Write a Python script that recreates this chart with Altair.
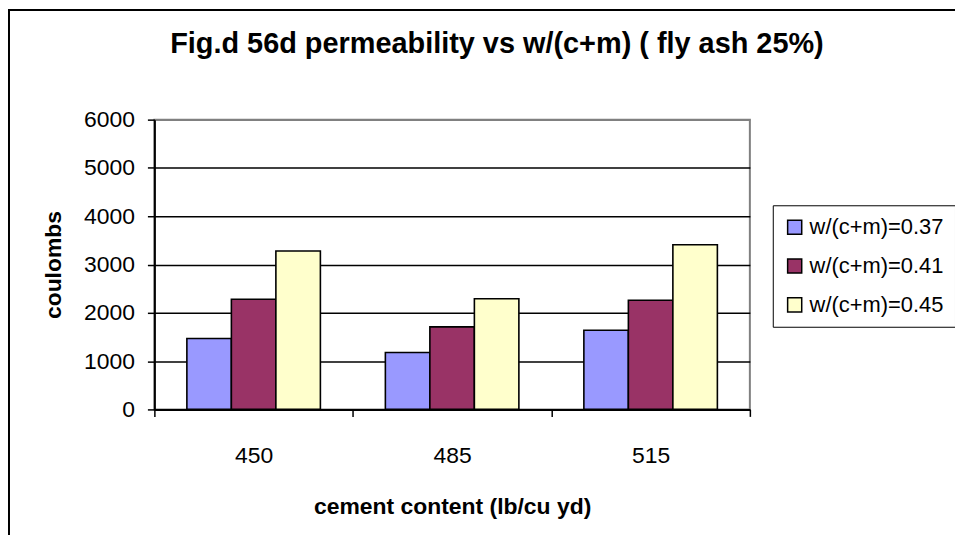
import altair as alt
import pandas as pd

cements = ["450", "485", "515"]
series = ["w/(c+m)=0.37", "w/(c+m)=0.41", "w/(c+m)=0.45"]
values_037 = [1470, 1180, 1640]
values_041 = [2280, 1710, 2260]
values_045 = [3280, 2290, 3410]
colors = ["#9999FF", "#993366", "#FFFFCC"]
y_ticks = [0, 1000, 2000, 3000, 4000, 5000, 6000]
title_text = "Fig.d 56d permeability vs w/(c+m) ( fly ash 25%)"

rows = []
for s, vals in zip(series, [values_037, values_041, values_045]):
    for c, v in zip(cements, vals):
        rows.append({"cement": c, "series": s, "coulombs": v})
df = pd.DataFrame(rows)

FONT = "Liberation Sans"
W, H = 598, 291

border = alt.Chart(alt.Data(values=[{}])).mark_rect(
    fillOpacity=0, stroke="black", strokeWidth=2
).encode(
    x=alt.value(-146), x2=alt.value(W + 300),
    y=alt.value(-110), y2=alt.value(H + 200),
)

title = alt.Chart(alt.Data(values=[{"t": title_text}])).mark_text(
    font=FONT, fontSize=29, fontWeight="bold", color="black",
    align="center", baseline="alphabetic"
).encode(text="t:N", x=alt.value(344), y=alt.value(-67))

bars = alt.Chart(df).mark_bar(stroke="black", strokeWidth=1.6).encode(
    x=alt.X("cement:N", sort=cements,
            scale=alt.Scale(paddingInner=0, paddingOuter=0),
            axis=alt.Axis(title="cement content (lb/cu yd)", labelAngle=0,
                          tickBand="extent", tickSize=7, labelPadding=28,
                          titlePadding=29)),
    xOffset=alt.XOffset("series:N", sort=series,
                        scale=alt.Scale(paddingInner=0, paddingOuter=0.73)),
    y=alt.Y("coulombs:Q", scale=alt.Scale(domain=[0, 6000], nice=False),
            axis=alt.Axis(title="coulombs", values=y_ticks, format="d",
                          tickSize=7, labelPadding=13, titlePadding=18,
                          gridColor={"condition": {"test": "datum.value === 6000", "value": "#808080"}, "value": "black"})),
    color=alt.Color("series:N", sort=series,
                    scale=alt.Scale(domain=series, range=colors),
                    legend=alt.Legend(title=None, orient="none",
                                      legendX=621, legendY=86)),
)

chart = alt.layer(border, title, bars).properties(
    width=W, height=H,
    autosize=alt.AutoSizeParams(type="none"),
    padding={"left": 147, "top": 111, "right": 206, "bottom": 125},
).configure_view(
    stroke="#808080", strokeWidth=2
).configure_axis(
    labelFont=FONT, titleFont=FONT, labelFontSize=23, titleFontSize=23,
    labelColor="black", titleColor="black", titleFontWeight="bold",
    domainColor="black", domainWidth=2, tickColor="black", tickWidth=1.5,
    grid=True, gridWidth=1.5,
).configure_axisX(grid=False).configure_legend(
    labelFont=FONT, labelFontSize=22, labelColor="black",
    symbolType="square", symbolSize=200, symbolStrokeColor="black",
    symbolStrokeWidth=1.5, strokeColor="black", fillColor="white",
    padding=11, rowPadding=17, labelOffset=4, cornerRadius=0,
)

chart.save("out.html", embed_options={"renderer": "svg", "actions": False})
